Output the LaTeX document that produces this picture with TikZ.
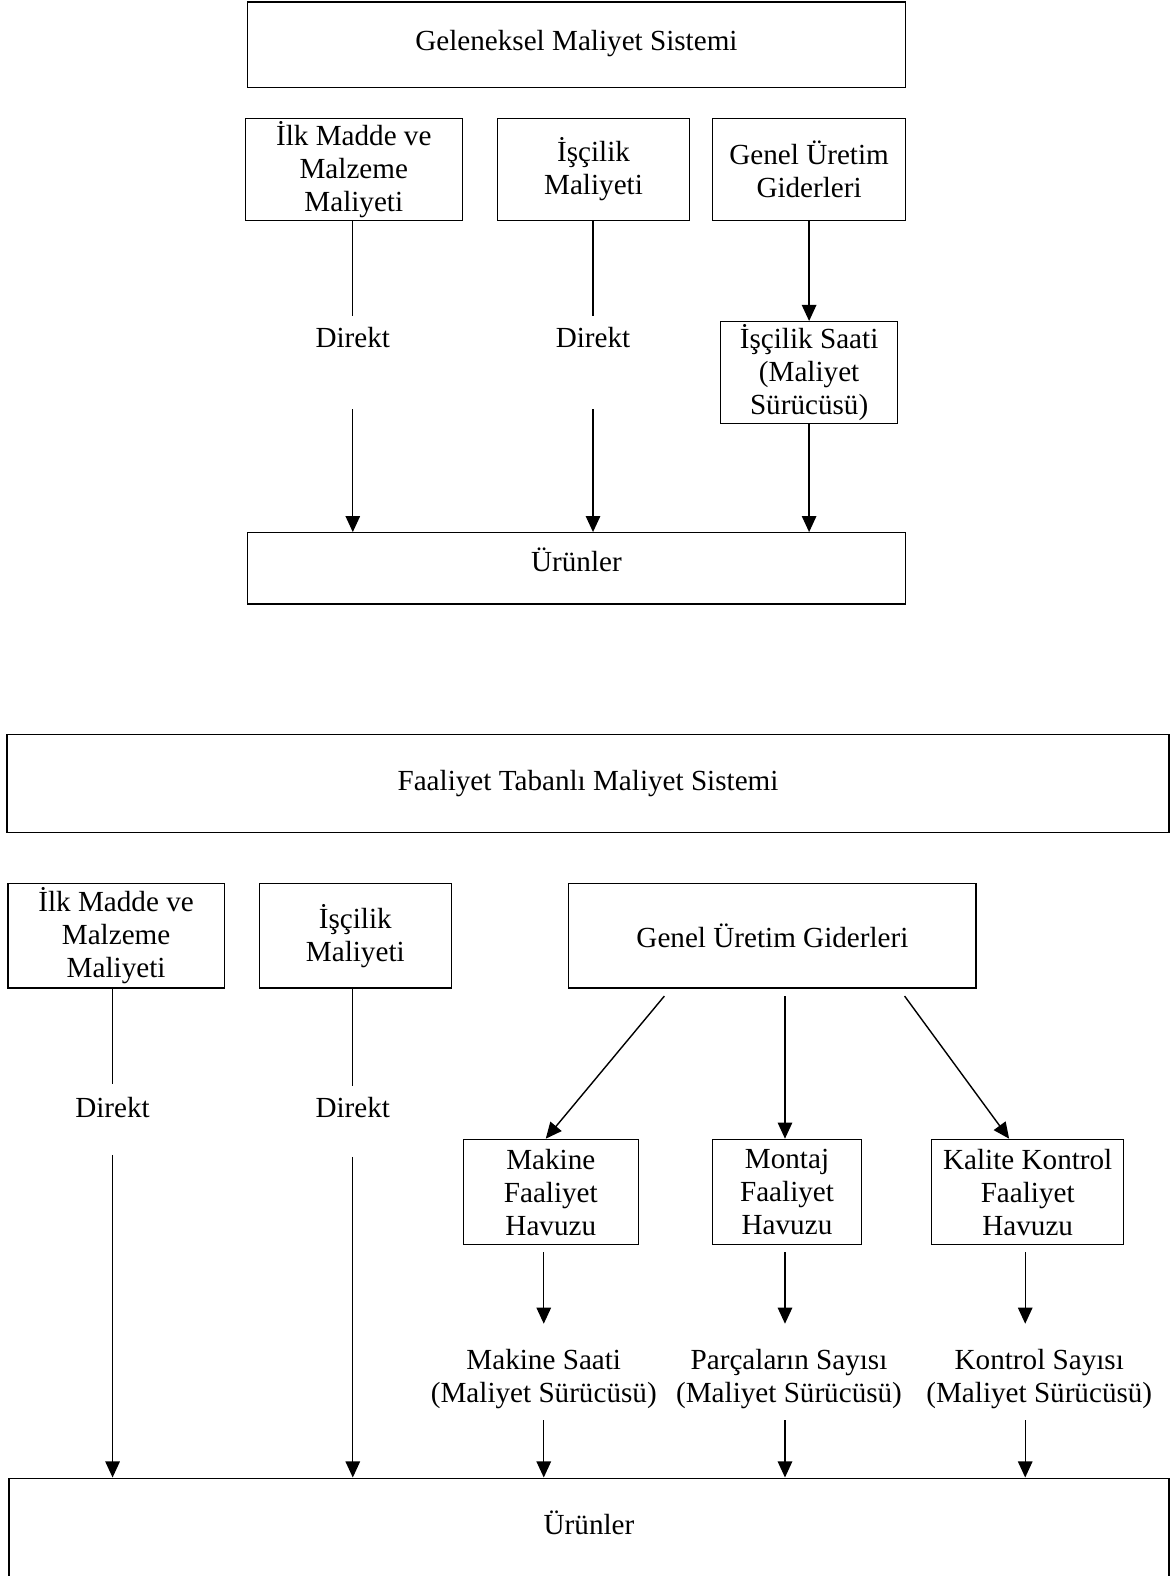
\documentclass[tikz,border=0pt]{standalone}
\usepackage{fontspec}
\setmainfont{Liberation Serif}
\usetikzlibrary{arrows.meta}
\begin{document}
\begin{tikzpicture}[x=0.5pt,y=-0.5pt,
  txt/.style={font=\fontsize{14.5}{16.4}\selectfont, align=center},
  box/.style={txt, draw, line width=0.6pt, inner sep=0pt},
  lbl/.style={txt, inner sep=0pt},
  ln/.style={line width=0.7pt},
  arr/.style={line width=0.7pt, -{Triangle[length=8pt,width=7.2pt]}}]
\useasboundingbox (0,0) rectangle (1167,1568);

% ---------- Geleneksel ----------
\node[box, minimum width=327.5pt, minimum height=42.5pt, text depth=4pt] (g) at (573.5,44.5) {Geleneksel Maliyet Sistemi};
\node[box, minimum width=108pt, minimum height=50.5pt] (a1) at (352,168.5) {İlk Madde ve\\Malzeme\\Maliyeti};
\node[box, minimum width=95.5pt, minimum height=50.5pt] (b1) at (590.5,168.5) {İşçilik\\Maliyeti};
\node[box, minimum width=96pt, minimum height=50.5pt] (c1) at (805,168.5) {Genel Üretim\\Giderleri};
\node[box, minimum width=88pt, minimum height=50.5pt] (d1) at (805,370.5) {İşçilik Saati\\(Maliyet\\Sürücüsü)};
\node[box, minimum width=327.5pt, minimum height=35.5pt, text depth=9pt] (u1) at (573.5,565.5) {Ürünler};
\node[lbl] (dir1) at (351,336) {Direkt};
\node[lbl] (dir2) at (590,336) {Direkt};

\coordinate (a1e) at (351,314);
\coordinate (a1s) at (351,407);
\coordinate (b1e) at (590,314);
\coordinate (b1s) at (590,407);
\draw[ln] (a1.south -| a1e) -- (a1e);
\draw[ln] (b1.south -| b1e) -- (b1e);
\draw[arr] (a1s) -- (u1.north -| a1s);
\draw[arr] (b1s) -- (u1.north -| b1s);
\draw[arr] (c1.south) -- (d1.north);
\draw[arr] (d1.south) -- (u1.north -| d1.south);

% ---------- Faaliyet Tabanli ----------
\node[box, minimum width=578pt, minimum height=48.5pt, text depth=3pt] (f) at (585,779.5) {Faaliyet Tabanlı Maliyet Sistemi};
\node[box, minimum width=107.5pt, minimum height=52pt] (a2) at (115.5,931) {İlk Madde ve\\Malzeme\\Maliyeti};
\node[box, minimum width=95.5pt, minimum height=52pt] (b2) at (353.5,931) {İşçilik\\Maliyeti};
\node[box, minimum width=202.5pt, minimum height=52pt] (c2) at (768.5,931) {Genel Üretim Giderleri};
\node[lbl] (dir3) at (112,1102) {Direkt};
\node[lbl] (dir4) at (351,1102) {Direkt};

\node[box, minimum width=87pt, minimum height=52.5pt] (mk) at (548,1186) {Makine\\Faaliyet\\Havuzu};
\node[box, minimum width=74pt, minimum height=52.5pt] (mt) at (783,1186) {Montaj\\Faaliyet\\Havuzu};
\node[box, minimum width=95.5pt, minimum height=52.5pt] (kk) at (1022.5,1186) {Kalite Kontrol\\Faaliyet\\Havuzu};

\node[lbl] (ms) at (541,1372) {Makine Saati\\(Maliyet Sürücüsü)};
\node[lbl] (ps) at (785,1372) {Parçaların Sayısı\\(Maliyet Sürücüsü)};
\node[lbl] (ks) at (1034,1372) {Kontrol Sayısı\\(Maliyet Sürücüsü)};

\node[box, minimum width=577pt, minimum height=52pt, anchor=north, text depth=8pt] (u2) at (586,1470) {Ürünler};

\coordinate (a2e) at (112,1078);
\coordinate (a2s) at (112,1149);
\coordinate (b2e) at (351,1080);
\coordinate (b2s) at (351,1151);
\draw[ln] (a2.south -| a2e) -- (a2e);
\draw[ln] (b2.south -| b2e) -- (b2e);
\draw[arr] (a2s) -- (u2.north -| a2s);
\draw[arr] (b2s) -- (u2.north -| b2s);

\coordinate (c2l) at (661,991);
\coordinate (c2m) at (781,991);
\coordinate (c2r) at (900,991);
\draw[arr] (c2l) -- (mk.north -| 543,0);
\draw[arr] (c2m) -- (mt.north -| 781,0);
\draw[arr] (c2r) -- (kk.north -| 1004,0);

\coordinate (mke) at (541,1317);
\coordinate (mte) at (781,1317);
\coordinate (kke) at (1020,1317);
\draw[arr] (mk.south -| mke) ++(0,7) -- (mke);
\draw[arr] (mt.south -| mte) ++(0,7) -- (mte);
\draw[arr] (kk.south -| kke) ++(0,7) -- (kke);

\coordinate (mss) at (541,1413);
\coordinate (pss) at (781,1413);
\coordinate (kss) at (1020,1413);
\draw[arr] (mss) -- (u2.north -| mss);
\draw[arr] (pss) -- (u2.north -| pss);
\draw[arr] (kss) -- (u2.north -| kss);
\end{tikzpicture}
\end{document}
